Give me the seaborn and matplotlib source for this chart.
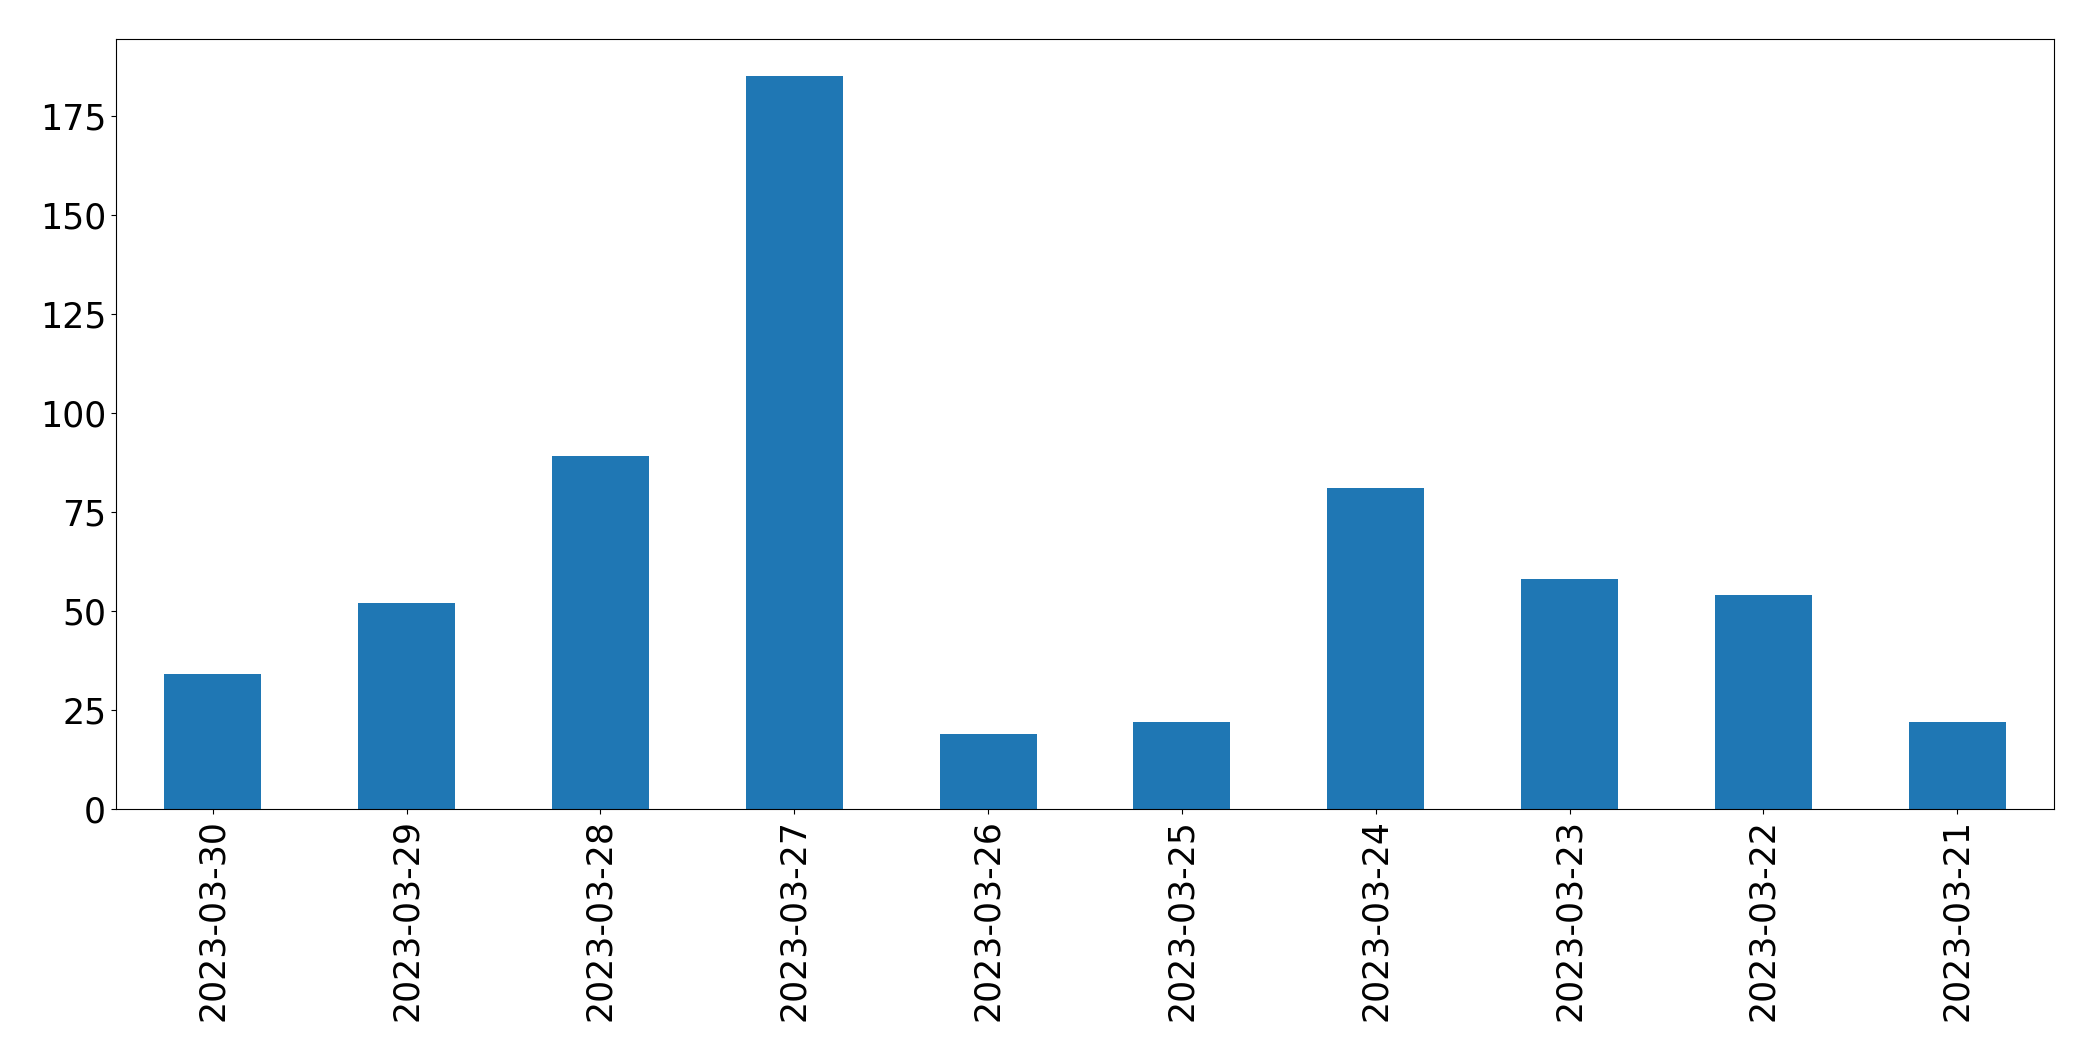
import matplotlib
matplotlib.use("Agg")
import matplotlib.pyplot as plt
import seaborn as sns
import pandas as pd

dates = ["2023-03-30", "2023-03-29", "2023-03-28", "2023-03-27", "2023-03-26",
         "2023-03-25", "2023-03-24", "2023-03-23", "2023-03-22", "2023-03-21"]
counts = [34, 52, 89, 185, 19, 22, 81, 58, 54, 22]

df = pd.DataFrame({"date": dates, "count": counts})

fig, ax = plt.subplots(figsize=(20.93, 10.61), dpi=100)
fig.subplots_adjust(left=0.0554, right=0.9814, top=0.9628, bottom=0.2375)

sns.barplot(data=df, x="date", y="count", order=dates, color="#1f77b4",
            saturation=1, width=0.5, ax=ax, errorbar=None)

ax.set_xlim(-0.5, len(dates) - 0.5)
ax.set_ylim(0, max(counts) * 1.05)
ax.set_xlabel("")
ax.set_ylabel("")
ax.tick_params(axis="both", labelsize=25)
ax.tick_params(axis="x", labelrotation=90)
for s in ax.spines.values():
    s.set_visible(True)
    s.set_color("black")

fig.savefig("out.png", dpi=100)
